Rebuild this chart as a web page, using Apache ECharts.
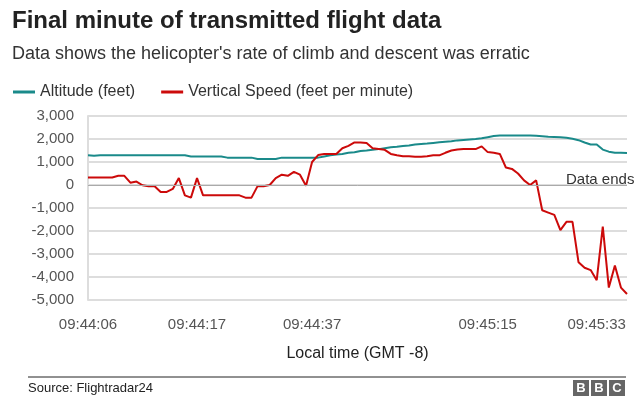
<!DOCTYPE html>
<html>
<head>
<meta charset="utf-8">
<script src="https://cdn.jsdelivr.net/npm/echarts@6/dist/echarts.min.js"></script>
<style>body{margin:0;background:#fff}</style>
</head>
<body>
<div id="main" style="width:640px;height:400px;"></div>
<script type="text/javascript">
// one sample per index
var altitude = [1290,1270,1290,1290,1290,1290,1290,1290,1290,1290,1290,1290,1290,1290,1290,1290,1290,1240,1240,1240,
  1240,1240,1240,1190,1190,1190,1190,1190,1130,1130,1130,1130,1190,1190,1190,1190,1190,1190,1190,1240,
  1290,1330,1350,1400,1420,1480,1500,1530,1560,1600,1640,1660,1700,1720,1760,1780,1800,1830,1860,1880,
  1900,1940,1960,1980,2000,2030,2080,2130,2150,2150,2150,2150,2150,2150,2140,2120,2100,2090,2080,2050,
  2010,1950,1850,1760,1760,1540,1450,1400,1400,1390];
var vspeed = [330,330,330,330,330,400,400,100,150,-10,-50,-50,-300,-300,-170,300,-450,-550,300,-450,
  -450,-450,-450,-450,-450,-450,-550,-550,-50,-50,0,300,450,400,570,450,-30,1000,1300,1350,
  1350,1350,1600,1700,1850,1850,1830,1600,1570,1530,1350,1290,1250,1250,1230,1230,1250,1290,1290,1400,
  1500,1540,1560,1560,1560,1680,1430,1400,1350,760,700,500,200,0,200,-1100,-1200,-1300,-1960,-1600,
  -1600,-3360,-3600,-3700,-4140,-1810,-4460,-3500,-4460,-4740];
var tickLabels = {0:'09:44:06', 18:'09:44:17', 37:'09:44:37', 66:'09:45:15', 84:'09:45:33'};
var categories = vspeed.map(function (v, i) { return tickLabels[i] || ''; });

var font = 'Liberation Sans, Arial, sans-serif';
var myChart = echarts.init(document.getElementById('main'));
var option = {
    animation: false,
    textStyle: {fontFamily: font},
    title: [
        {text: 'Final minute of transmitted flight data', left: 7, top: 4,
         textStyle: {fontSize: 24, fontWeight: 'bold', color: '#222', fontFamily: font}},
        {text: "Data shows the helicopter's rate of climb and descent was erratic", left: 7, top: 40,
         textStyle: {fontSize: 18, fontWeight: 'normal', color: '#333', fontFamily: font}}
    ],
    legend: {
        left: 8, top: 79, itemWidth: 22, itemHeight: 3, itemGap: 26, icon: 'rect',
        textStyle: {fontSize: 16, color: '#333', fontFamily: font},
        data: ['Altitude (feet)', 'Vertical Speed (feet per minute)']
    },
    grid: {left: 88, right: 13, top: 116, bottom: 100},
    xAxis: {
        type: 'category', data: categories, boundaryGap: false,
        name: 'Local time (GMT -8)', nameLocation: 'middle', nameGap: 46,
        nameTextStyle: {fontSize: 16, color: '#222', fontFamily: font},
        axisLine: {show: false}, axisTick: {show: false},
        axisLabel: {interval: 0, fontSize: 15, color: '#555', margin: 17, fontFamily: font}
    },
    yAxis: {
        type: 'value', min: -5000, max: 3000, interval: 1000,
        axisLine: {show: true, lineStyle: {color: '#ddd', width: 2}},
        axisTick: {show: false},
        axisLabel: {fontSize: 15, color: '#555', margin: 14, fontFamily: font,
            formatter: function (v) { return v.toLocaleString('en-US'); }},
        splitLine: {lineStyle: {color: '#ddd', width: 2}}
    },
    series: [
        {name: 'Altitude (feet)', type: 'line', data: altitude, showSymbol: false,
         lineStyle: {color: '#1a8a8a', width: 2}, itemStyle: {color: '#1a8a8a'}},
        {name: 'Vertical Speed (feet per minute)', type: 'line', data: vspeed, showSymbol: false,
         lineStyle: {color: '#cc0a0a', width: 2}, itemStyle: {color: '#cc0a0a'},
         markLine: {silent: true, symbol: 'none', label: {show: false},
            lineStyle: {color: '#aaa', width: 1, type: 'solid'}, data: [{yAxis: 0}]}}
    ],
    graphic: [
        {type: 'text', left: 566, top: 172, style: {text: 'Data ends', fontSize: 15, fill: '#333', fontFamily: font}},
        {type: 'line', shape: {x1: 28, y1: 377, x2: 626, y2: 377}, style: {stroke: '#222', lineWidth: 1}},
        {type: 'text', left: 28, top: 382, style: {text: 'Source: Flightradar24', fontSize: 13, fill: '#222', fontFamily: font}},
        {type: 'rect', shape: {x: 573, y: 380, width: 16, height: 16}, style: {fill: '#666'}},
        {type: 'rect', shape: {x: 591, y: 380, width: 16, height: 16}, style: {fill: '#666'}},
        {type: 'rect', shape: {x: 609, y: 380, width: 16, height: 16}, style: {fill: '#666'}},
        {type: 'text', x: 581, y: 388.5, style: {text: 'B', fontSize: 13, fontWeight: 'bold', fill: '#fff', align: 'center', verticalAlign: 'middle', fontFamily: font}},
        {type: 'text', x: 599, y: 388.5, style: {text: 'B', fontSize: 13, fontWeight: 'bold', fill: '#fff', align: 'center', verticalAlign: 'middle', fontFamily: font}},
        {type: 'text', x: 617, y: 388.5, style: {text: 'C', fontSize: 13, fontWeight: 'bold', fill: '#fff', align: 'center', verticalAlign: 'middle', fontFamily: font}}
    ]
};
myChart.setOption(option);
</script>
</body>
</html>
